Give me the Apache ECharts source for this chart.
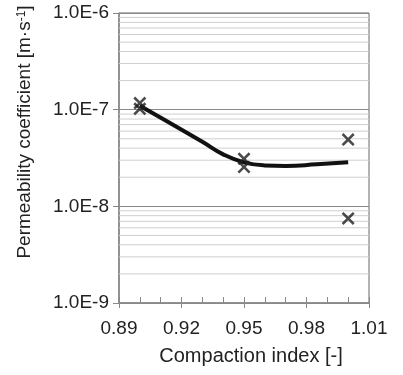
<!DOCTYPE html>
<html>
<head>
<meta charset="utf-8">
<script src="https://cdn.jsdelivr.net/npm/echarts@6/dist/echarts.min.js"></script>
<style>
  html, body { margin: 0; padding: 0; background: #fff; }
  #chart { width: 403px; height: 375px; }
</style>
</head>
<body>
<div id="chart"></div>
<script>
// tick positions
const xMajorTicks = [0.89, 0.92, 0.95, 0.98, 1.01];
const xMinorTicks = [0.89, 0.90, 0.91, 0.92, 0.93, 0.94, 0.95, 0.96, 0.97, 0.98, 0.99, 1.00, 1.01];
const yDecades = [1e-9, 1e-8, 1e-7, 1e-6];
const yMinorSteps = [2, 3, 4, 5, 6, 7, 8, 9];

// measured points (crosses)
const measuredX = [0.9, 0.9, 0.95, 0.95, 1.0, 1.0];
const measuredY = [1.17e-7, 1.02e-7, 3.1e-8, 2.55e-8, 4.9e-8, 7.5e-9];

// smoothed trend line
const trendX = [0.9, 0.913, 0.93, 0.94, 0.95, 0.96, 0.97, 0.985, 1.0];
const trendY = [1.1e-7, 7.6e-8, 4.65e-8, 3.45e-8, 2.85e-8, 2.65e-8, 2.62e-8, 2.72e-8, 2.86e-8];

const FONT = 'Liberation Sans, Arial, sans-serif';
const X_MIN = 0.89;
const X_MAX = 1.01;

const yMinorValues = [];
yDecades.slice(0, 3).forEach(d => yMinorSteps.forEach(m => yMinorValues.push(m * d)));

// light grid lines at 2..9 of every decade
const minorGridSeries = yMinorValues.map(v => ({
    type: 'line',
    z: 1,
    silent: true,
    symbol: 'none',
    data: [[X_MIN, v], [X_MAX, v]],
    lineStyle: { color: '#cfcfcf', width: 1 },
}));

const chart = echarts.init(document.getElementById('chart'));

chart.setOption({
    animation: false,
    grid: {
        left: 119,
        right: 34,
        top: 13,
        bottom: 72,
        show: true,
        borderColor: '#666',
        borderWidth: 1,
        outerBoundsMode: 'none',
    },
    xAxis: [
        {
            type: 'value',
            min: X_MIN,
            max: X_MAX,
            position: 'bottom',
            name: 'Compaction index [-]',
            nameLocation: 'middle',
            nameGap: 43,
            nameTextStyle: { fontFamily: FONT, fontSize: 20, color: '#222', padding: [0, 0, 0, 14] },
            axisLine: { lineStyle: { color: '#888', width: 1.5 } },
            axisTick: { inside: true, length: 6, customValues: xMinorTicks, lineStyle: { color: '#888' } },
            axisLabel: {
                customValues: xMajorTicks,
                margin: 16,
                fontFamily: FONT,
                fontSize: 19,
                color: '#222',
                formatter: v => v.toFixed(2),
            },
            splitLine: { show: false },
        },
        {
            type: 'value',
            min: X_MIN,
            max: X_MAX,
            position: 'bottom',
            axisLine: { show: false },
            axisTick: { length: 5, customValues: xMajorTicks, lineStyle: { color: '#888' } },
            axisLabel: { show: false },
            splitLine: { show: false },
        },
    ],
    yAxis: {
        type: 'log',
        logBase: 10,
        min: 1e-9,
        max: 1e-6,
        axisLine: { show: true, lineStyle: { color: '#888', width: 1.5 } },
        axisTick: { show: true, length: 6, lineStyle: { color: '#888' } },
        axisLabel: {
            margin: 10,
            fontFamily: FONT,
            fontSize: 19,
            color: '#222',
            formatter: v => v.toExponential(1).toUpperCase(),
        },
        splitLine: { show: true, lineStyle: { color: '#8a8a8a', width: 1 } },
    },
    graphic: [
        {
            type: 'text',
            x: 25,
            y: 132,
            rotation: Math.PI / 2,
            style: {
                text: '{a|Permeability coefficient [m·s}{sup|-1}{a|]}',
                align: 'center',
                verticalAlign: 'middle',
                fill: '#222',
                rich: {
                    a: { fontFamily: FONT, fontSize: 19, fill: '#222', color: '#222' },
                    sup: { fontFamily: FONT, fontSize: 12, fill: '#222', color: '#222', verticalAlign: 'top' },
                },
            },
        },
    ],
    series: [
        ...minorGridSeries,
        {
            type: 'line',
            z: 3,
            data: trendX.map((x, i) => [x, trendY[i]]),
            smooth: 0.5,
            showSymbol: false,
            symbol: 'none',
            lineStyle: { color: '#111', width: 4 },
        },
        {
            type: 'scatter',
            z: 4,
            data: measuredX.map((x, i) => [x, measuredY[i]]),
            symbol: 'path://M0,14L14,0L50,36L86,0L100,14L64,50L100,86L86,100L50,64L14,100L0,86L36,50Z',
            symbolSize: 13,
            itemStyle: { color: '#1e1e1e' },
        },
    ],
});
</script>
</body>
</html>
